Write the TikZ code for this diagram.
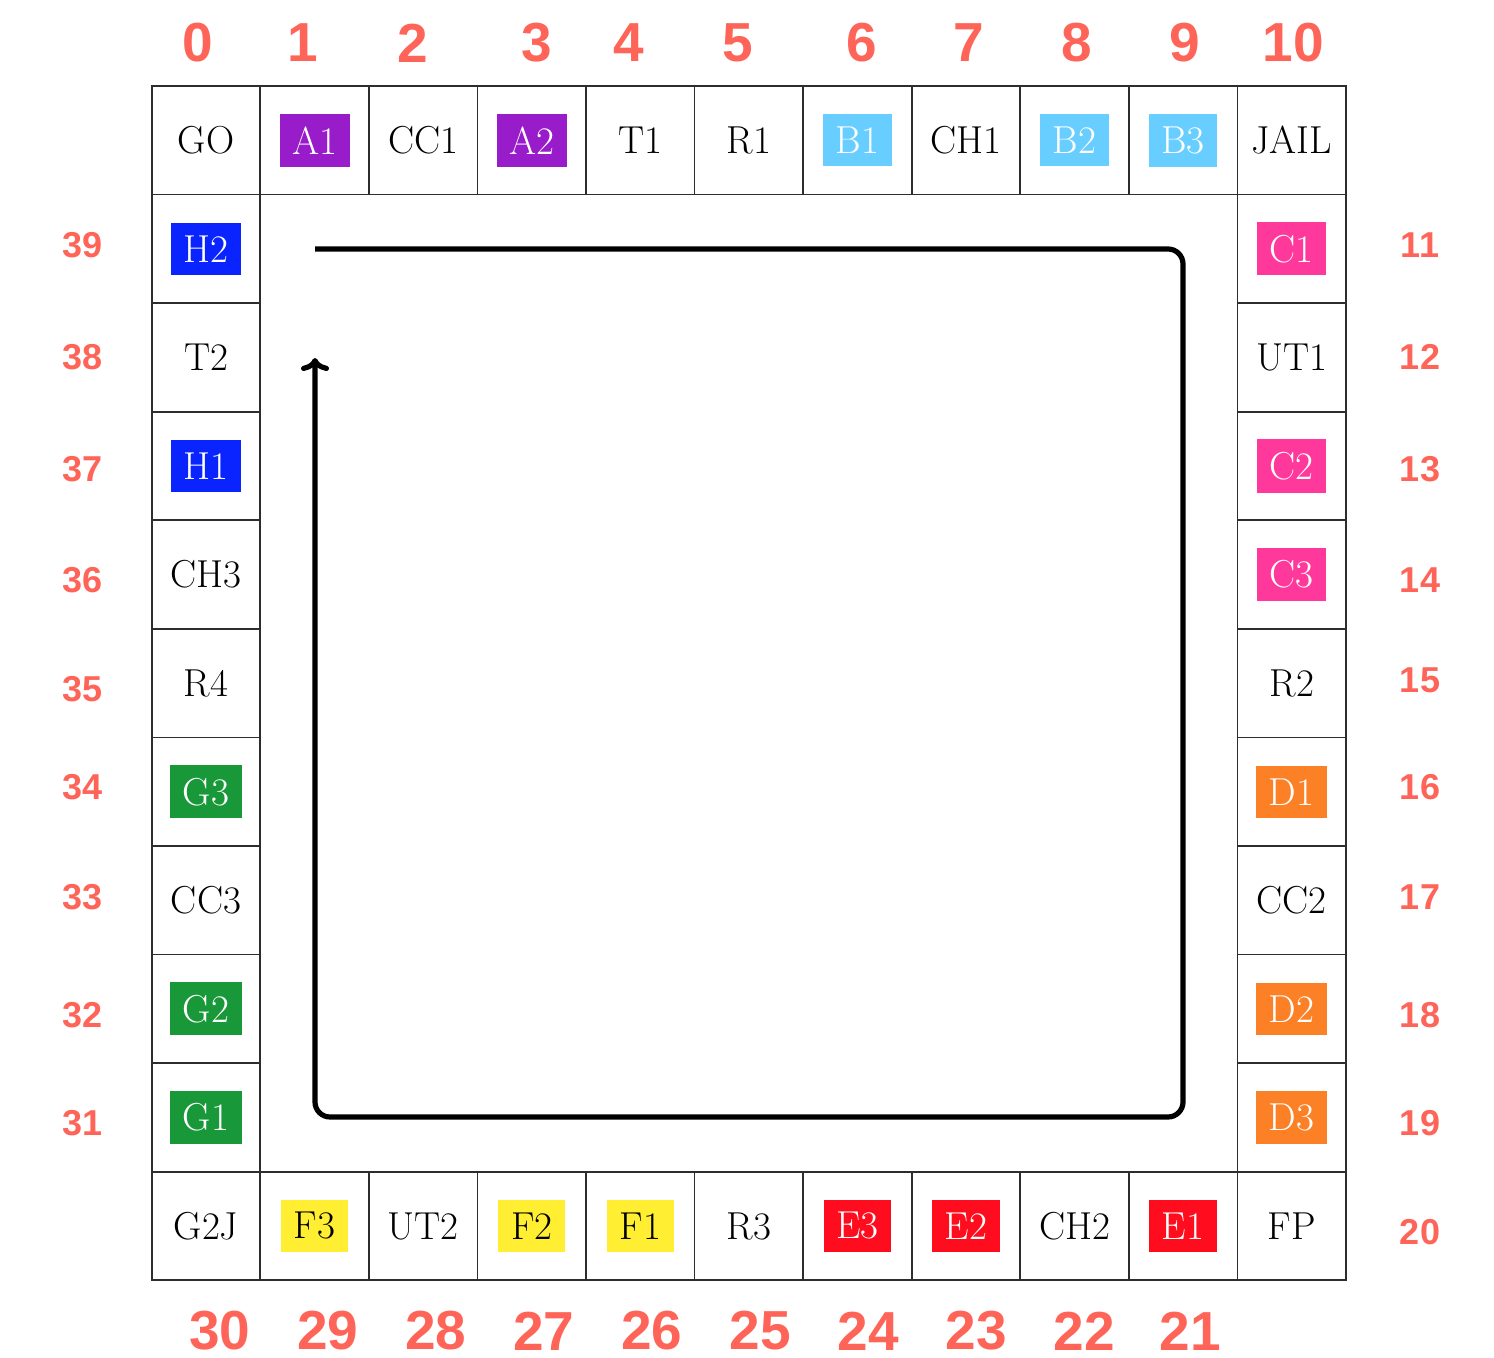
\documentclass[tikz,border=0pt]{standalone}
\usepackage{fontspec}
\newfontfamily\numfont{Liberation Sans}
\usetikzlibrary{arrows.meta}
\definecolor{colA}{RGB}{153,28,202}
\definecolor{colB}{RGB}{104,206,255}
\definecolor{colC}{RGB}{255,57,155}
\definecolor{colD}{RGB}{252,128,38}
\definecolor{colE}{RGB}{255,12,30}
\definecolor{colF}{RGB}{255,238,50}
\definecolor{colG}{RGB}{25,152,58}
\definecolor{colH}{RGB}{10,36,255}
\definecolor{numred}{RGB}{255,100,88}
\definecolor{gridcol}{RGB}{45,45,45}
\begin{document}
\begin{tikzpicture}[x=0.5pt,y=-0.5pt,
  cell/.style={draw=gridcol, line width=0.8pt, rectangle, inner sep=0pt,
    minimum size=54.285pt, font=\fontsize{19.5}{23}\selectfont},
  prop/.style={rectangle, inner sep=6.3pt, font=\fontsize{19.5}{23}\selectfont},
  bignum/.style={text=numred, font=\numfont\bfseries\fontsize{27.5}{30}\selectfont, inner sep=0pt},
  sidenum/.style={text=numred, font=\numfont\bfseries\fontsize{18}{21}\selectfont, inner sep=0pt},
  route/.style={line width=2.6pt, rounded corners=7.5pt, -{To[length=6.5pt,width=14pt]}}]
\useasboundingbox (0,0) rectangle (1494,1358);
% plain cells
\foreach \n/\i/\j/\t in {0/0/0/GO, 2/2/0/CC1, 4/4/0/T1, 5/5/0/R1, 7/7/0/CH1, 10/10/0/JAIL,
  12/10/2/UT1, 15/10/5/R2, 17/10/7/CC2, 20/10/10/FP,
  22/8/10/CH2, 25/5/10/R3, 28/2/10/UT2, 30/0/10/G2J,
  33/0/7/CC3, 35/0/5/R4, 36/0/4/CH3, 38/0/2/T2}
  \node[cell] (c\n) at ({206.0+108.57*\i},{140.3+108.57*\j}) {\t};
% property cells
\foreach \n/\i/\j/\t/\c/\tc in {1/1/0/A1/colA/white, 3/3/0/A2/colA/white,
  6/6/0/B1/colB/white, 8/8/0/B2/colB/white, 9/9/0/B3/colB/white,
  11/10/1/C1/colC/white, 13/10/3/C2/colC/white, 14/10/4/C3/colC/white,
  16/10/6/D1/colD/white, 18/10/8/D2/colD/white, 19/10/9/D3/colD/white,
  21/9/10/E1/colE/white, 23/7/10/E2/colE/white, 24/6/10/E3/colE/white,
  26/4/10/F1/colF/black, 27/3/10/F2/colF/black, 29/1/10/F3/colF/black,
  31/0/9/G1/colG/white, 32/0/8/G2/colG/white, 34/0/6/G3/colG/white,
  37/0/3/H1/colH/white, 39/0/1/H2/colH/white}
{
  \node[cell] (c\n) at ({206.0+108.57*\i},{140.3+108.57*\j}) {};
  \node[prop, fill=\c, text=\tc] (p\n) at (c\n) {\t};
}
% top numbers
\foreach \n/\x in {0/198, 1/303, 2/413, 3/537, 4/629, 5/738, 6/862, 7/969, 8/1077, 9/1185, 10/1293}
  \node[bignum] (t\n) at (\x,43) {\n};
% bottom numbers
\foreach \n/\x in {30/220, 29/328, 28/436, 27/544, 26/652, 25/760, 24/868, 23/976, 22/1084, 21/1190}
  \node[bignum] (b\n) at (\x,1331) {\n};
% left numbers
\foreach \n/\y in {39/245, 38/357, 37/469, 36/580, 35/689, 34/787, 33/897, 32/1015, 31/1123}
  \node[sidenum] (l\n) at (83,\y) {\n};
% right numbers
\foreach \n/\y in {11/245, 12/357, 13/469, 14/580, 15/680, 16/787, 17/897, 18/1015, 19/1123, 20/1232}
  \node[sidenum] (r\n) at (1420,\y) {\n};
% route
\coordinate (rs) at (315,249);
\coordinate (rne) at (1183,249);
\coordinate (rse) at (1183,1117);
\coordinate (rsw) at (315,1117);
\coordinate (re) at (315,358);
\draw[route] (rs) -- (rne) -- (rse) -- (rsw) -- (re);
\end{tikzpicture}
\end{document}
